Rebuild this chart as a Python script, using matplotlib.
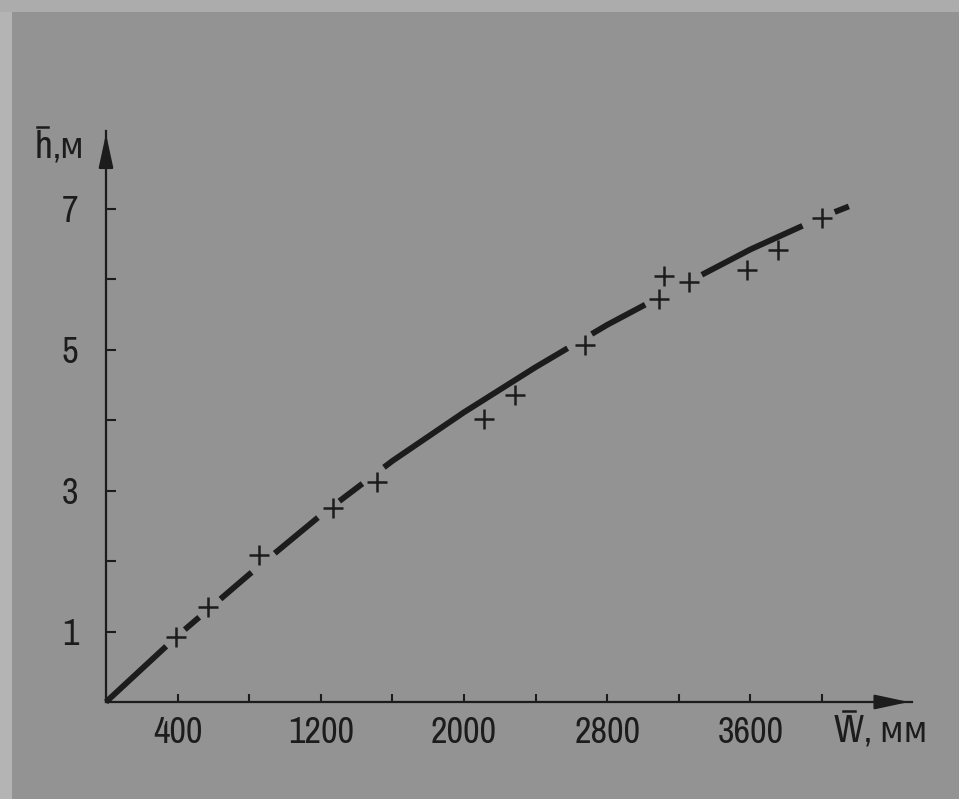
import matplotlib
matplotlib.use("Agg")
import matplotlib.pyplot as plt
from matplotlib import font_manager
from matplotlib.lines import Line2D
from matplotlib.patches import Rectangle

# fitted curve h(W)
curve_w = [0, 400, 800, 1200, 1600, 2000, 2400, 2800, 3200, 3600, 4000, 4150]
curve_h = [0, 0.94, 1.81, 2.65, 3.42, 4.11, 4.75, 5.35, 5.89, 6.42, 6.88, 7.03]

# measured points (+)
pts_w = [390, 570, 855, 1270, 1515, 2110, 2285, 2675, 3090, 3120, 3255, 3580, 3755, 4000]
pts_h = [0.92, 1.35, 2.09, 2.75, 3.12, 4.02, 4.35, 5.06, 5.72, 6.04, 5.96, 6.13, 6.41, 6.86]

xticks = [400, 800, 1200, 1600, 2000, 2400, 2800, 3200, 3600, 4000]
xlabels = ["400", "", "1200", "", "2000", "", "2800", "", "3600", ""]
yticks = [1, 2, 3, 4, 5, 6, 7]
ylabels = ["1", "", "3", "", "5", "", "7"]

ink = "#1c1c1c"
bg = "#939393"

# look for a narrow / condensed face, the scan uses a condensed sans
fam, stretch = "DejaVu Sans", "normal"
for f in font_manager.fontManager.ttflist:
    if "Narrow" in f.name or "Condensed" in f.name:
        fam, stretch = f.name, f.stretch
        break
    if str(f.stretch) in ("condensed", "semi-condensed", "75", "87") and f.style == "normal":
        fam, stretch = f.name, f.stretch

plt.rcParams["font.family"] = [fam, "DejaVu Sans"]
plt.rcParams["font.stretch"] = stretch
plt.rcParams["lines.scale_dashes"] = False

fig = plt.figure(figsize=(9.59, 7.99), dpi=100, facecolor=bg)
# lighter scan edges
fig.patches.append(Rectangle((0, 0), 12 / 959, 1, transform=fig.transFigure,
                             facecolor="#b4b4b4", edgecolor="none", zorder=0))
fig.patches.append(Rectangle((0, 1 - 12 / 799), 1, 12 / 799, transform=fig.transFigure,
                             facecolor="#acacac", edgecolor="none", zorder=0))

ax = fig.add_axes([106 / 959, 97 / 799, 805.5 / 959, 571 / 799])
ax.set_facecolor("none")
ax.set_xlim(0, 4500)
ax.set_ylim(0, 8.1)

# curve, broken into dashes like the original
px = 0.72
dash = [82, 25, 19, 28, 41, 30, 56, 27, 29, 27, 219, 28, 61, 64, 112, 35, 30, 40]
ax.plot(curve_w, curve_h, color=ink, lw=4.2, solid_capstyle="butt",
        dashes=[d * px for d in dash], clip_on=False)
ax.plot(pts_w, pts_h, linestyle="none", marker="+", ms=15, mew=1.8, color=ink)

for side in ["top", "right"]:
    ax.spines[side].set_visible(False)
for side in ["left", "bottom"]:
    ax.spines[side].set_color(ink)
    ax.spines[side].set_linewidth(1.6)

# arrow heads
ax.annotate("", xy=(1.0, 0), xytext=(0.96, 0), xycoords="axes fraction",
            arrowprops=dict(arrowstyle="-|>,head_length=1.3,head_width=0.28",
                            mutation_scale=16, color=ink, lw=1.6))
ax.annotate("", xy=(0, 1.0), xytext=(0, 0.95), xycoords="axes fraction",
            arrowprops=dict(arrowstyle="-|>,head_length=1.3,head_width=0.28",
                            mutation_scale=16, color=ink, lw=1.6))

ax.set_xticks(xticks)
ax.set_xticklabels(xlabels)
ax.set_yticks(yticks)
ax.set_yticklabels(ylabels)
ax.tick_params(axis="x", direction="in", length=6, width=1.5, pad=10,
               labelsize=26, colors=ink)
ax.tick_params(axis="y", direction="in", length=7, width=1.5, pad=20,
               labelsize=26, colors=ink)


def bar_label(x, y, sym, rest, a, b):
    # symbol with a short overbar, then the unit
    t = fig.text(x, y, sym, fontsize=28, color=ink, va="baseline", ha="left")
    fig.canvas.draw()
    bb = t.get_window_extent()
    w = bb.x1 - bb.x0
    fig.add_artist(Line2D([bb.x0 + a * w, bb.x0 + b * w], [bb.y1 + 3, bb.y1 + 3],
                          transform=None, color=ink, lw=1.8))
    fig.text(bb.x1 / fig.bbox.width, y, rest, fontsize=25, color=ink,
             va="baseline", ha="left")


bar_label(35 / 959, 1 - 158 / 799, "h", ",м", 0.1, 0.75)
bar_label(834 / 959, 1 - 742 / 799, "W", ", мм", 0.3, 0.7)

fig.savefig("out.png", dpi=100, facecolor=bg)
